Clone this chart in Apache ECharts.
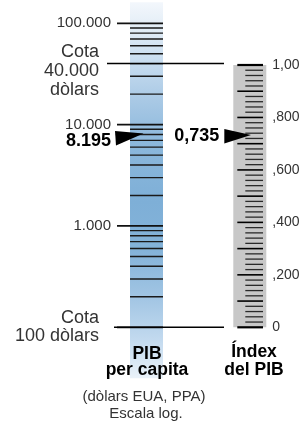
<!DOCTYPE html>
<html>
<head>
<meta charset="utf-8">
<script src="https://cdn.jsdelivr.net/npm/echarts@6/dist/echarts.min.js"></script>
<style>html,body{margin:0;padding:0;background:#fff;}#c{width:303px;height:421px;}</style>
</head>
<body>
<div id="c"></div>
<script>
// ---- data ----
const gdpTickValues = [100, 1000, 10000, 100000];
const gdpTickLabels = ['', '1.000', '10.000', '100.000'];
const gdpMinorTicks = [200, 300, 400, 500, 600, 700, 800, 900,
  2000, 3000, 4000, 5000, 6000, 7000, 8000, 9000,
  20000, 30000, 40000, 50000, 60000, 70000, 80000, 90000];
const gdpThresholds = [40000, 100];
const gdpThresholdLabels = ['Cota\n40.000\ndòlars', 'Cota\n100 dòlars'];
const gdpValue = 8195;
const gdpValueLabel = '8.195';
const indexMin = 0, indexMax = 1, indexStep = 0.1;
const indexTickLabels = ['0', '', ',200', '', ',400', '', ',600', '', ',800', '', '1,00'];
const indexMajorTicks = [0, 0.1, 0.2, 0.3, 0.4, 0.5, 0.6, 0.7, 0.8, 0.9, 1];
const indexMinorTicks = [0.02, 0.04, 0.06, 0.08, 0.12, 0.14, 0.16, 0.18,
  0.22, 0.24, 0.26, 0.28, 0.32, 0.34, 0.36, 0.38, 0.42, 0.44, 0.46, 0.48,
  0.52, 0.54, 0.56, 0.58, 0.62, 0.64, 0.66, 0.68, 0.72, 0.74, 0.76, 0.78,
  0.82, 0.84, 0.86, 0.88, 0.92, 0.94, 0.96, 0.98];
const indexValue = 0.735;
const indexValueLabel = '0,735';
const gdpTitle = 'PIB\nper capita';
const gdpSubtitle = '(dòlars EUA, PPA)';
const gdpScaleNote = 'Escala log.';
const indexTitle = 'Índex\ndel PIB';

// ---- chart ----
const FONT = "'Liberation Sans', Arial, Helvetica, sans-serif";
const chart = echarts.init(document.getElementById('c'), null, {renderer: 'canvas'});

function textEl(x, y, text, size, weight, align, lh, color) {
  return {
    type: 'text', x: x, y: y, silent: true,
    style: {
      text: text, font: weight + ' ' + size + 'px ' + FONT, fill: color,
      align: align, verticalAlign: 'middle', textAlign: align, textVerticalAlign: 'middle',
      lineHeight: lh
    }
  };
}

const blueGradient = new echarts.graphic.LinearGradient(0, 0, 0, 1, [
  {offset: 0.00, color: '#f3f7fc'},
  {offset: 0.06, color: '#e4eef7'},
  {offset: 0.15, color: '#cadef0'},
  {offset: 0.26, color: '#a9c9e5'},
  {offset: 0.37, color: '#8cb8dc'},
  {offset: 0.53, color: '#7eafd7'},
  {offset: 0.66, color: '#84b3d9'},
  {offset: 0.79, color: '#a3c6e4'},
  {offset: 0.90, color: '#c3daef'},
  {offset: 1.00, color: '#eaf2f9'}
]);

const option = {
  animation: false,
  backgroundColor: '#ffffff',
  grid: [
    {left: 130, top: 23.3, width: 33, height: 304, show: false, outerBoundsMode: 'none', containLabel: false},
    {left: 233.3, top: 65, width: 33, height: 262.3, show: true, backgroundColor: '#c8c8c8', borderWidth: 0, outerBoundsMode: 'none', containLabel: false}
  ],
  xAxis: [
    {gridIndex: 0, type: 'value', min: 0, max: 1, show: false},
    {gridIndex: 1, type: 'value', min: 0, max: 1, show: false}
  ],
  yAxis: [
    {
      gridIndex: 0, type: 'log', logBase: 10, min: gdpTickValues[0], max: gdpTickValues[gdpTickValues.length - 1],
      position: 'left',
      axisLine: {show: false},
      axisTick: {show: false},
      splitLine: {show: false},
      axisLabel: {
        margin: 19, color: '#333', fontSize: 15, fontFamily: FONT,
        formatter: function (v) {
          const i = gdpTickValues.findIndex(t => Math.abs(Math.log10(t) - Math.log10(v)) < 1e-6);
          return i >= 0 ? gdpTickLabels[i] : '';
        }
      }
    },
    {
      gridIndex: 1, type: 'value', min: indexMin, max: indexMax, interval: indexStep,
      position: 'right',
      axisLine: {show: false},
      axisTick: {show: false},
      minorTick: {show: false},
      splitLine: {show: false},
      axisLabel: {
        margin: 6, color: '#333', fontSize: 14, fontFamily: FONT,
        formatter: function (v) {
          const i = Math.round((v - indexMin) / indexStep);
          return indexTickLabels[i] || '';
        }
      }
    }
  ],
  series: [
    { // blue column of the log scale
      type: 'custom', xAxisIndex: 0, yAxisIndex: 0, z: -1, clip: false, silent: true,
      data: [[0, gdpTickValues[0]]],
      renderItem: function (params, api) {
        const cs = params.coordSys;
        const top = cs.y - 21, bottom = cs.y + cs.height + 51;
        return {type: 'rect', shape: {x: cs.x, y: top, width: cs.width, height: bottom - top},
          style: {fill: blueGradient}};
      }
    },
    { // major ticks on the log scale
      type: 'custom', xAxisIndex: 0, yAxisIndex: 0, clip: false, silent: true,
      data: gdpTickValues.map(v => [0, v]),
      renderItem: function (params, api) {
        const cs = params.coordSys;
        const y = api.coord([0, api.value(1)])[1];
        return {type: 'line', shape: {x1: cs.x - 13, y1: y, x2: cs.x + cs.width, y2: y},
          style: {stroke: '#111', lineWidth: 1.7}};
      }
    },
    { // minor ticks on the log scale
      type: 'custom', xAxisIndex: 0, yAxisIndex: 0, clip: false, silent: true,
      data: gdpMinorTicks.map(v => [0, v]),
      renderItem: function (params, api) {
        const cs = params.coordSys;
        const y = api.coord([0, api.value(1)])[1];
        return {type: 'line', shape: {x1: cs.x, y1: y, x2: cs.x + cs.width, y2: y},
          style: {stroke: '#1a1a1a', lineWidth: 1.4}};
      }
    },
    { // major ticks on the index scale
      type: 'custom', xAxisIndex: 1, yAxisIndex: 1, clip: false, silent: true,
      data: indexMajorTicks.map(v => [0, v]),
      renderItem: function (params, api) {
        const cs = params.coordSys;
        const v = api.value(1);
        const y = api.coord([0, v])[1];
        const edge = (v === indexMin || v === indexMax);
        return {type: 'line', shape: {x1: cs.x + 4, y1: y, x2: cs.x + 29.7, y2: y},
          style: {stroke: '#000', lineWidth: edge ? 2.2 : 1.6}};
      }
    },
    { // minor ticks on the index scale
      type: 'custom', xAxisIndex: 1, yAxisIndex: 1, clip: false, silent: true,
      data: indexMinorTicks.map(v => [0, v]),
      renderItem: function (params, api) {
        const cs = params.coordSys;
        const y = api.coord([0, api.value(1)])[1];
        return {type: 'line', shape: {x1: cs.x + 12, y1: y, x2: cs.x + 29.7, y2: y},
          style: {stroke: '#2a2a2a', lineWidth: 1.3}};
      }
    },
    { // threshold lines
      type: 'custom', xAxisIndex: 0, yAxisIndex: 0, clip: false, silent: true,
      data: gdpThresholds.map(v => [0, v]),
      renderItem: function (params, api) {
        const cs = params.coordSys;
        const y = api.coord([0, api.value(1)])[1];
        const start = params.dataIndex === 0 ? cs.x - 23 : cs.x - 16;
        return {type: 'line', shape: {x1: start, y1: y, x2: cs.x + 94, y2: y},
          style: {stroke: '#000', lineWidth: 1.5}};
      }
    },
    { // GDP pointer
      type: 'custom', xAxisIndex: 0, yAxisIndex: 0, clip: false, silent: true,
      data: [[0, gdpValue]],
      renderItem: function (params, api) {
        const cs = params.coordSys;
        const y = api.coord([0, api.value(1)])[1];
        const tx = cs.x + 13.5;
        return {type: 'group', children: [
          {type: 'polygon', shape: {points: [[tx - 28.5, y - 2.3], [tx, y], [tx - 27.5, y + 12]]},
            style: {fill: '#000'}},
          textEl(tx - 32.5, y + 7.3, gdpValueLabel, 18, 'bold', 'right', 20, '#000')
        ]};
      }
    },
    { // index pointer
      type: 'custom', xAxisIndex: 1, yAxisIndex: 1, clip: false, silent: true,
      data: [[0, indexValue]],
      renderItem: function (params, api) {
        const cs = params.coordSys;
        const y = api.coord([0, api.value(1)])[1];
        const tx = cs.x + 17.7;
        return {type: 'group', children: [
          {type: 'polygon', shape: {points: [[tx - 26.7, y - 5.4], [tx, y + 0.6], [tx - 26.7, y + 8.9]]},
            style: {fill: '#000'}},
          textEl(tx - 31.7, y + 2, indexValueLabel, 18, 'bold', 'right', 20, '#000')
        ]};
      }
    }
  ],
  graphic: [
    textEl(99, 71.5, gdpThresholdLabels[0], 18, 'normal', 'right', 19, '#333'),
    textEl(99, 327, gdpThresholdLabels[1], 18, 'normal', 'right', 18, '#333'),
    textEl(147, 362.5, gdpTitle, 17.5, 'bold', 'center', 16, '#000'),
    textEl(144, 397, gdpSubtitle, 15, 'normal', 'center', 16, '#333'),
    textEl(146, 414, gdpScaleNote, 15, 'normal', 'center', 16, '#333'),
    textEl(254, 361, indexTitle, 17.5, 'bold', 'center', 18, '#000')
  ]
};
chart.setOption(option);
</script>
</body>
</html>
